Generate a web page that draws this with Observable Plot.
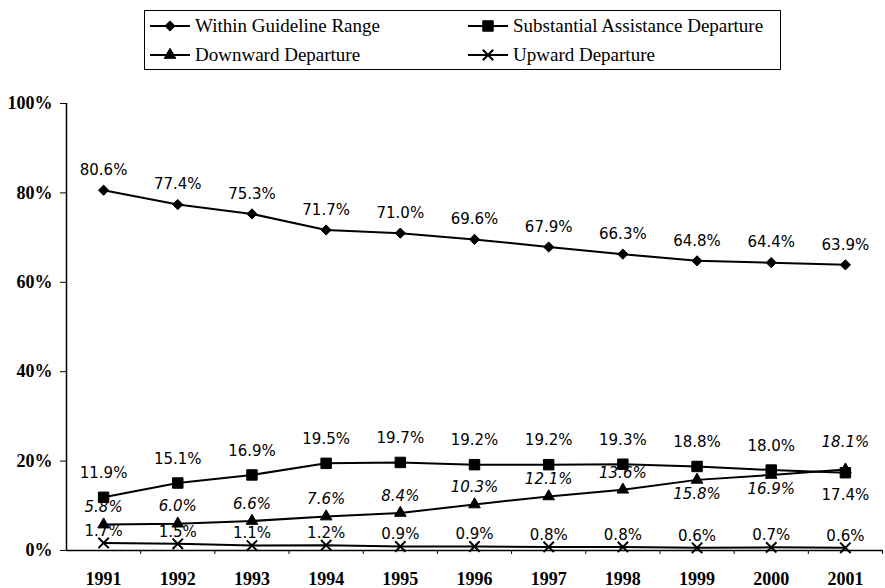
<!DOCTYPE html>
<html>
<head>
<meta charset="utf-8">
<script src="https://cdn.jsdelivr.net/npm/d3@7"></script>
<script src="https://cdn.jsdelivr.net/npm/@observablehq/plot@0.6"></script>
<style>
  html, body { margin: 0; padding: 0; background: #fff; }
  #wrap { position: relative; width: 885px; }
  #legend { position: relative; width: 885px; height: 75px; }
  #legend .box { position: absolute; left: 144px; top: 10px; width: 637px; height: 60px; border: 1.5px solid #000; box-sizing: border-box; }
  #legend .item { position: absolute; height: 22px; display: flex; align-items: center; font-family: "Liberation Serif", serif; font-size: 19px; color: #000; white-space: nowrap; }
  #legend .item span { margin-left: 5px; }
  #chart svg { display: block; }
</style>
</head>
<body>
<div id="wrap">
  <div id="legend"><div class="box"></div></div>
  <div id="chart"></div>
</div>
<script>
// ---- data ----
const years = [1991, 1992, 1993, 1994, 1995, 1996, 1997, 1998, 1999, 2000, 2001];
const seriesNames = ["Within Guideline Range", "Substantial Assistance Departure", "Downward Departure", "Upward Departure"];
const withinGuideline = [80.6, 77.4, 75.3, 71.7, 71.0, 69.6, 67.9, 66.3, 64.8, 64.4, 63.9];
const substantialAssistance = [11.9, 15.1, 16.9, 19.5, 19.7, 19.2, 19.2, 19.3, 18.8, 18.0, 17.4];
const downwardDeparture = [5.8, 6.0, 6.6, 7.6, 8.4, 10.3, 12.1, 13.6, 15.8, 16.9, 18.1];
const upwardDeparture = [1.7, 1.5, 1.1, 1.2, 0.9, 0.9, 0.8, 0.8, 0.6, 0.7, 0.6];
const yTicks = [0, 20, 40, 60, 80, 100];
// label placement: years whose value label sits below the marker, or higher than usual
const substantialLabelsBelow = [2001];
const downwardLabelsBelow = [1999, 2000];
const downwardLabelsHigh = [2001];

// ---- styling per series ----
const series = [
  {name: seriesNames[0], values: withinGuideline, symbol: "diamond2", r: 4.6, fill: "black", sw: 1, italic: false, below: [], high: [], dyA: -20, dyB: 20, dyH: -20},
  {name: seriesNames[1], values: substantialAssistance, symbol: "square", r: 5.9, fill: "black", sw: 1, italic: false, below: substantialLabelsBelow, high: [], dyA: -24, dyB: 22, dyH: -24},
  {name: seriesNames[2], values: downwardDeparture, symbol: "triangle", r: 4.3, fill: "black", sw: 1, italic: true, below: downwardLabelsBelow, high: downwardLabelsHigh, dyA: -17, dyB: 14, dyH: -27},
  {name: seriesNames[3], values: upwardDeparture, symbol: "times", r: 4.8, fill: "none", sw: 2, italic: false, below: [], high: [], dyA: -12, dyB: 12, dyH: -12}
];

const labelFont = {fontFamily: "DejaVu Sans, sans-serif", fontSize: 15};
const marks = [];
// axes lines
marks.push(Plot.ruleY([0], {stroke: "black", strokeWidth: 1.5}));
marks.push(Plot.ruleX([years[0] - 0.5], {y1: 0, y2: 100, stroke: "black", strokeWidth: 1.5}));

for (const s of series) {
  const data = years.map((year, i) => ({year, value: s.values[i]}));
  marks.push(Plot.line(data, {x: "year", y: "value", stroke: "black", strokeWidth: 2}));
  marks.push(Plot.dot(data, {x: "year", y: "value", symbol: s.symbol, r: s.r, fill: s.fill, stroke: "black", strokeWidth: s.sw}));
  const fmt = d => d.value.toFixed(1) + "%";
  const common = {x: "year", y: "value", text: fmt, fill: "black", ...labelFont, fontStyle: s.italic ? "italic" : "normal"};
  marks.push(Plot.text(data.filter(d => !s.below.includes(d.year) && !s.high.includes(d.year)), {...common, dy: s.dyA}));
  marks.push(Plot.text(data.filter(d => s.below.includes(d.year)), {...common, dy: s.dyB}));
  marks.push(Plot.text(data.filter(d => s.high.includes(d.year)), {...common, dy: s.dyH}));
}

// x axis: boundary ticks and year labels
const boundaries = years.map(y => y + 0.5);
marks.push(Plot.axisX(boundaries, {tickSize: 4, tickFormat: () => "", label: null}));
marks.push(Plot.axisX(years, {tickSize: 0, tickPadding: 22, tickFormat: d => String(d), label: null,
  fontSize: 18, fontWeight: "bold", fontFamily: "Liberation Serif, serif"}));
marks.push(Plot.axisY(yTicks, {tickSize: 6, tickPadding: 8, tickFormat: d => d + "%", label: null,
  fontSize: 18, fontWeight: "bold", fontFamily: "Liberation Serif, serif"}));

const chart = Plot.plot({
  width: 885,
  height: 513,
  marginTop: 28,
  marginBottom: 38,
  marginLeft: 66,
  marginRight: 3,
  x: {type: "linear", domain: [years[0] - 0.5, years[years.length - 1] + 0.5]},
  y: {domain: [0, 100]},
  style: {background: "white", color: "black", overflow: "visible"},
  marks
});
document.getElementById("chart").appendChild(chart);

// ---- legend (above the SVG) ----
const legendPos = [
  {left: 150, cy: 26}, {left: 468, cy: 26},
  {left: 150, cy: 55}, {left: 468, cy: 55}
];
const d3Symbols = {diamond2: d3.symbolDiamond2, square: d3.symbolSquare, triangle: d3.symbolTriangle, times: d3.symbolTimes};
const legend = d3.select("#legend");
series.forEach((s, i) => {
  const p = legendPos[i];
  const item = legend.append("div").attr("class", "item")
    .style("left", p.left + "px").style("top", (p.cy - 11) + "px");
  const svg = item.append("svg").attr("width", 40).attr("height", 16);
  svg.append("line").attr("x1", 0).attr("x2", 40).attr("y1", 8).attr("y2", 8)
    .attr("stroke", "black").attr("stroke-width", 2);
  svg.append("path")
    .attr("d", d3.symbol(d3Symbols[s.symbol], Math.PI * s.r * s.r)())
    .attr("transform", "translate(20,8)")
    .attr("fill", s.fill).attr("stroke", "black").attr("stroke-width", s.sw);
  item.append("span").text(s.name);
});
</script>
</body>
</html>
